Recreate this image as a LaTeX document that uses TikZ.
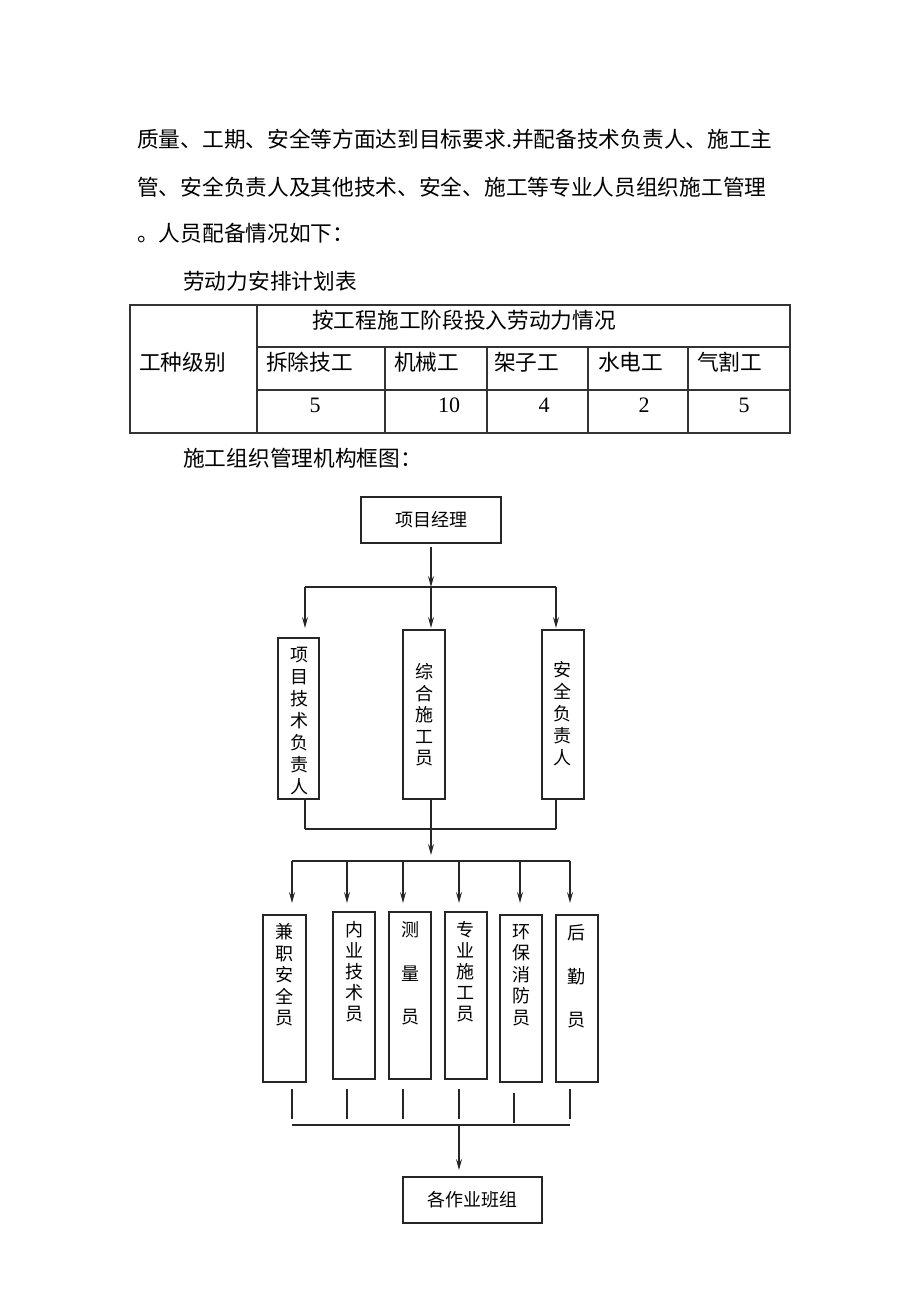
\documentclass[tikz,border=0pt]{standalone}
\usepackage{fontspec}
\setmainfont{Noto Sans CJK SC}
\newfontfamily\numfont{Liberation Serif}
\usetikzlibrary{arrows.meta}
\begin{document}
\begin{tikzpicture}[x=1pt,y=-1pt,
  para/.style={anchor=west, inner sep=0pt, font=\fontsize{21.7}{26}\selectfont},
  num/.style={inner sep=0pt, font=\numfont\fontsize{22}{26}\selectfont},
  box/.style={draw=black!85, line width=1.4pt, inner sep=0pt},
  vtxt/.style={inner sep=0pt, align=center, font=\fontsize{18}{21.5}\selectfont},
  vtxtw/.style={inner sep=0pt, align=center, font=\fontsize{18}{43.5}\selectfont},
  conn/.style={draw=black!85, line width=1.4pt},
  arr/.style={conn, -{Stealth[length=11pt,width=6pt,inset=4pt]}},
  tline/.style={draw=black!80, line width=1.3pt}
]
\path[use as bounding box, fill=white] (0,0) rectangle (920,1302);

% paragraph
\node[para] (l1) at (137,139) {质量、工期、安全等方面达到目标要求.并配备技术负责人、施工主};
\node[para] (l2) at (137,187) {管、安全负责人及其他技术、安全、施工等专业人员组织施工管理};
\node[para] (l3) at (137,233) {。人员配备情况如下：};
\node[para] (ttl) at (183,281) {劳动力安排计划表};

% table
\draw[tline] (130,305) rectangle (790,433);
\draw[tline] (257,305) -- (257,433);
\draw[tline] (257,347) -- (790,347);
\draw[tline] (257,390) -- (790,390);
\foreach \x in {385,487,588,688} {\draw[tline] (\x,347) -- (\x,433);}
\node[para] (th) at (312,320) {按工程施工阶段投入劳动力情况};
\node[para] (tk) at (139,362) {工种级别};
\node[para] (c1) at (266,362) {拆除技工};
\node[para] (c2) at (394,362) {机械工};
\node[para] (c3) at (494,362) {架子工};
\node[para] (c4) at (598,362) {水电工};
\node[para] (c5) at (697,362) {气割工};
\node[num] (n1) at (315,405) {5};
\node[num] (n2) at (449,405) {10};
\node[num] (n3) at (544,405) {4};
\node[num] (n4) at (644,405) {2};
\node[num] (n5) at (744,405) {5};

\node[para] (ct) at (183,458) {施工组织管理机构框图：};

% chart top
\node[box, minimum width=140pt, minimum height=46pt, font=\fontsize{18}{21.5}\selectfont] (pm) at (431,520) {\raisebox{3pt}{项目经理}};

\node[box, minimum width=41pt, minimum height=161pt] (t1) at (298.5,718.5) {};
\node[box, minimum width=42pt, minimum height=169pt] (t2) at (424,714.5) {};
\node[box, minimum width=42pt, minimum height=169pt] (t3) at (563,714.5) {};
\node[vtxt, font=\fontsize{18}{22}\selectfont] (t1t) at (299,721) {项\\目\\技\\术\\负\\责\\人};
\node[vtxt] (t2t) at (424,715) {综\\合\\施\\工\\员};
\node[vtxt, font=\fontsize{18}{21.8}\selectfont] (t3t) at (562.5,713.5) {安\\全\\负\\责\\人};

\coordinate (s0) at (431,547);
\coordinate (j0) at (431,587);
\coordinate (j0L) at (305,587);
\coordinate (j0R) at (556,587);
\coordinate (a1) at (305,628);
\coordinate (a2) at (431,628);
\coordinate (a3) at (556,628);
\draw[arr] (s0) -- (j0);
\draw[conn] (j0L) -- (j0R);
\draw[arr] (j0L) -- (a1);
\draw[arr] (j0) -- (a2);
\draw[arr] (j0R) -- (a3);

\coordinate (j1L) at (305,829);
\coordinate (j1) at (431,829);
\coordinate (j1R) at (556,829);
\coordinate (a4) at (431,855);
\draw[conn] (t1.south -| j0L) -- (j1L);
\draw[conn] (t2.south -| j0) -- (j1);
\draw[conn] (t3.south -| j0R) -- (j1R);
\draw[conn] (j1L) -- (j1R);
\draw[arr] (j1) -- (a4);

% second level
\coordinate (j2L) at (292,861);
\coordinate (j2R) at (570,861);
\draw[conn] (j2L) -- (j2R);
\foreach \x [count=\i] in {292,347,403,459,520,570} {
  \coordinate (k\i) at (\x,861);
  \coordinate (p\i) at (\x,903);
  \draw[arr] (k\i) -- (p\i);
}

\node[box, minimum width=43pt, minimum height=167pt] (b1) at (284.5,998.5) {};
\node[box, minimum width=42pt, minimum height=167pt] (b2) at (354,995.5) {};
\node[box, minimum width=42pt, minimum height=167pt] (b3) at (410,995.5) {};
\node[box, minimum width=42pt, minimum height=167pt] (b4) at (466,995.5) {};
\node[box, minimum width=42pt, minimum height=167pt] (b5) at (521,998.5) {};
\node[box, minimum width=42pt, minimum height=167pt] (b6) at (577,998.5) {};
\node[vtxt] (b1t) at (284.7,975) {兼\\职\\安\\全\\员};
\node[vtxt, font=\fontsize{18}{21}\selectfont] (b2t) at (354,972) {内\\业\\技\\术\\员};
\node[vtxtw] (b3t) at (410,973.5) {测\\量\\员};
\node[vtxt, font=\fontsize{18}{21}\selectfont] (b4t) at (465.7,972) {专\\业\\施\\工\\员};
\node[vtxt] (b5t) at (521,975) {环\\保\\消\\防\\员};
\node[vtxtw] (b6t) at (576.7,976.5) {后\\勤\\员};

% bottom connectors
\foreach \x/\ya/\yb [count=\i] in {292/1089/1119, 347/1089/1119, 403/1089/1119, 459/1089/1119, 514/1093/1123, 570/1089/1119} {
  \coordinate (q\i) at (\x,\ya);
  \coordinate (r\i) at (\x,\yb);
  \draw[conn] (q\i) -- (r\i);
}
\coordinate (j3L) at (292,1125);
\coordinate (j3) at (459,1125);
\coordinate (j3R) at (570,1125);
\coordinate (a5) at (459,1170);
\draw[conn] (j3L) -- (j3R);
\draw[arr] (j3) -- (a5);

\node[box, minimum width=139pt, minimum height=46pt, font=\fontsize{18}{21.5}\selectfont] (gb) at (472.5,1200) {\raisebox{3pt}{各作业班组}};
\end{tikzpicture}
\end{document}
